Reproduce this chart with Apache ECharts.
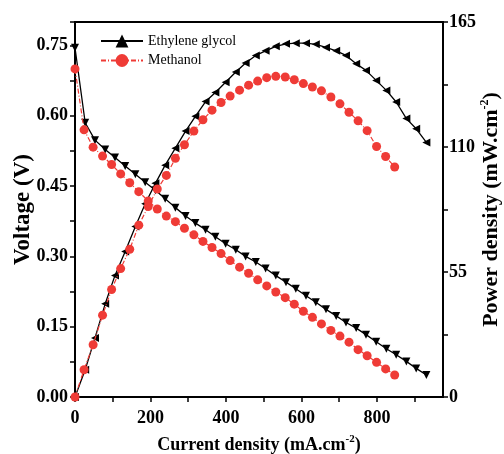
<!DOCTYPE html>
<html>
<head>
<meta charset="utf-8">
<script src="https://cdn.jsdelivr.net/npm/echarts@6/dist/echarts.min.js"></script>
<style>
  html, body { margin: 0; padding: 0; background: #fff; }
  #chart { width: 504px; height: 454px; }
</style>
</head>
<body>
<div id="chart"></div>
<script>
// Ethylene glycol cell: current density (mA/cm2), voltage (V), power density (mW/cm2)
const egCurrent = [0, 27, 53, 80, 106, 133, 160, 186, 213, 239, 266, 293, 319, 346, 372, 399, 426, 452, 479, 505, 532, 559, 585, 612, 638, 665, 692, 718, 745, 771, 798, 825, 851, 878, 904, 931];
const egVoltage = [0.745, 0.585, 0.548, 0.528, 0.511, 0.493, 0.475, 0.458, 0.441, 0.423, 0.404, 0.386, 0.371, 0.357, 0.342, 0.327, 0.314, 0.300, 0.288, 0.274, 0.259, 0.245, 0.231, 0.216, 0.202, 0.187, 0.173, 0.159, 0.147, 0.133, 0.118, 0.103, 0.090, 0.076, 0.061, 0.047];
const egPower = [0, 12, 26, 41, 53.5, 64, 75, 85, 94, 102, 109.5, 117, 123.5, 130, 134, 138.5, 143, 147, 150.3, 152.3, 154.3, 155.4, 155.7, 155.7, 155.2, 153.8, 152.3, 150.3, 146.6, 143.7, 139.3, 134.9, 129.8, 122.5, 118, 112];

// Methanol cell
const meCurrent = [0, 24, 48, 73, 97, 121, 145, 169, 194, 218, 242, 266, 290, 315, 339, 363, 387, 411, 436, 460, 484, 508, 532, 557, 581, 605, 629, 653, 678, 702, 726, 750, 774, 799, 823, 847];
const meVoltage = [0.700, 0.570, 0.533, 0.514, 0.496, 0.476, 0.457, 0.438, 0.418, 0.401, 0.386, 0.374, 0.360, 0.346, 0.332, 0.319, 0.306, 0.291, 0.277, 0.264, 0.250, 0.237, 0.224, 0.212, 0.198, 0.183, 0.170, 0.156, 0.142, 0.130, 0.117, 0.101, 0.088, 0.074, 0.060, 0.047];
const mePower = [0, 12, 23, 36, 47.3, 56.5, 65, 75.6, 83.8, 91.5, 97.5, 105, 111, 117, 122, 126.2, 129.6, 132.4, 135, 137.2, 139, 140.5, 141.1, 140.8, 139.6, 137.9, 136.4, 134.7, 132, 129, 125.3, 121.5, 117.2, 110.2, 105.8, 101.2];

// Labelled tick values
const xTickLabels = [0, 200, 400, 600, 800];
const voltTickLabels = [0, 0.15, 0.30, 0.45, 0.60, 0.75];
const powerTickLabels = [0, 55, 110, 165];

const seriesNames = ['Ethylene glycol', 'Methanol'];

const FONT = '"Liberation Serif", "Times New Roman", serif';
const RED = '#ef3b36';

const pairs = (xs, ys) => xs.map((x, i) => [x, ys[i]]);
const isLabelled = (list, v) => list.some(t => Math.abs(t - v) < 1e-6);

const tickLabelStyle = {
  color: '#000', fontFamily: FONT, fontWeight: 'bold', fontSize: 18
};
const axisLine = { show: true, lineStyle: { color: '#000', width: 2 } };
const axisTick = { show: true, inside: false, length: 5, lineStyle: { color: '#000', width: 1.5 } };

function titleRich(size, supSize, supRaise) {
  return {
    fontFamily: FONT, fontWeight: 'bold', fontSize: size, color: '#000',
    rich: {
      b: { fontFamily: FONT, fontWeight: 'bold', fontSize: size, color: '#000' },
      s: { fontFamily: FONT, fontWeight: 'bold', fontSize: supSize, color: '#000', padding: [0, 0, supRaise, 0] }
    }
  };
}

const chart = echarts.init(document.getElementById('chart'), null, { renderer: 'canvas' });

chart.setOption({
  animation: false,
  backgroundColor: '#fff',
  grid: {
    left: 75, right: 61, top: 22, bottom: 57,
    containLabel: false, outerBoundsMode: 'none',
    show: true, borderColor: '#000', borderWidth: 2, backgroundColor: 'transparent'
  },
  legend: {
    data: seriesNames,
    orient: 'vertical',
    left: 95, top: 29,
    itemWidth: 42, itemHeight: 16, itemGap: 5.5,
    symbolRotate: 0,
    textStyle: { fontFamily: FONT, fontSize: 14, color: '#000' }
  },
  xAxis: {
    type: 'value', min: 0, max: 975, interval: 100,
    name: '{b|Current density (mA.cm}{s|-2}{b|)}',
    nameLocation: 'middle', nameGap: 37, nameMoveOverlap: false,
    nameTextStyle: titleRich(18, 11, 12),
    axisLine, axisTick,
    splitLine: { show: false },
    axisLabel: {
      ...tickLabelStyle, margin: 12,
      showMaxLabel: false,
      formatter: v => isLabelled(xTickLabels, v) ? String(v) : ''
    }
  },
  yAxis: [
    {
      type: 'value', min: 0, max: 0.8, interval: 0.075, position: 'left',
      name: 'Voltage (V)',
      nameLocation: 'middle', nameRotate: 90, nameGap: 40, nameMoveOverlap: false,
      nameTextStyle: { fontFamily: FONT, fontWeight: 'bold', fontSize: 23, color: '#000' },
      axisLine, axisTick,
      splitLine: { show: false },
      axisLabel: {
        ...tickLabelStyle, margin: 7,
        formatter: v => isLabelled(voltTickLabels, v) ? v.toFixed(2) : ''
      }
    },
    {
      type: 'value', min: 0, max: 165, interval: 27.5, position: 'right',
      name: '{b|Power density (mW.cm}{s|-2}{b|)}',
      nameLocation: 'middle', nameRotate: 90, nameGap: 36, nameMoveOverlap: false,
      nameTextStyle: titleRich(22, 12, 13),
      axisLine, axisTick,
      splitLine: { show: false },
      axisLabel: {
        ...tickLabelStyle, margin: 6,
        formatter: v => isLabelled(powerTickLabels, v) ? String(v) : ''
      }
    }
  ],
  series: [
    {
      name: seriesNames[0], type: 'line', xAxisIndex: 0, yAxisIndex: 0,
      data: pairs(egCurrent, egVoltage),
      symbol: 'triangle', symbolSize: 8, symbolRotate: 180,
      lineStyle: { color: '#000', width: 1.3 },
      itemStyle: { color: '#000' },
      z: 2
    },
    {
      name: seriesNames[0], type: 'line', xAxisIndex: 0, yAxisIndex: 1,
      data: pairs(egCurrent, egPower),
      symbol: 'triangle', symbolSize: 8, symbolRotate: 90,
      lineStyle: { color: '#000', width: 1.3 },
      itemStyle: { color: '#000' },
      z: 2
    },
    {
      name: seriesNames[1], type: 'line', xAxisIndex: 0, yAxisIndex: 0,
      data: pairs(meCurrent, meVoltage),
      symbol: 'circle', symbolSize: 9,
      lineStyle: { color: RED, width: 1.2, type: [5, 2, 1, 2] },
      itemStyle: { color: RED },
      z: 3
    },
    {
      name: seriesNames[1], type: 'line', xAxisIndex: 0, yAxisIndex: 1,
      data: pairs(meCurrent, mePower),
      symbol: 'circle', symbolSize: 9,
      lineStyle: { color: RED, width: 1.2, type: [5, 2, 1, 2] },
      itemStyle: { color: RED },
      z: 3
    }
  ]
});
</script>
</body>
</html>
